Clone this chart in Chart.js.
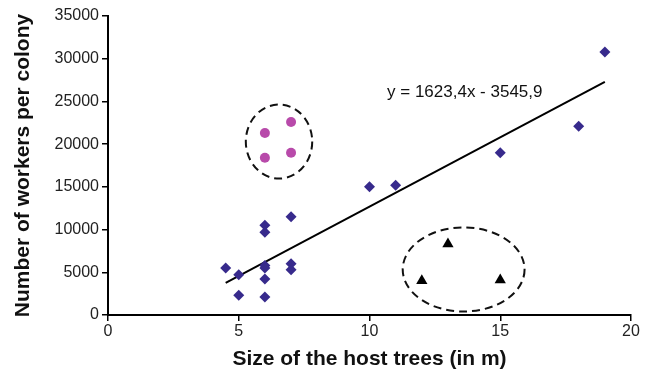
<!DOCTYPE html>
<html>
<head>
<meta charset="utf-8">
<script src="https://cdn.jsdelivr.net/npm/chart.js@4/dist/chart.umd.min.js"></script>
<style>
  html, body { margin: 0; padding: 0; background: #fff; }
  #wrap { width: 658px; height: 376px; }
</style>
</head>
<body>
<div id="wrap"><canvas id="chart"></canvas></div>
<script>
// ── Data ──────────────────────────────────────────────
const diamondX = [4.5, 5, 5, 6, 6, 6, 6, 6, 6, 7, 7, 7, 10, 11, 15, 18, 19];
const diamondY = [5500, 4700, 2300, 10500, 9700, 5800, 5500, 4200, 2100, 11500, 6000, 5300, 15000, 15200, 19000, 22100, 30800];

const circleX = [6, 7, 6, 7];
const circleY = [21300, 22600, 18400, 19000];

const triangleX = [12, 13, 15];
const triangleY = [4000, 8300, 4100];

// trend line y = 1623,4x - 3545,9, drawn over the diamond range
const slope = 1623.4;
const intercept = -3545.9;
const trendX = [4.5, 19];
const equationLabel = 'y = 1623,4x - 3545,9';

const xTicks = [0, 5, 10, 15, 20];
const yTicks = [0, 5000, 10000, 15000, 20000, 25000, 30000, 35000];

// dashed ellipses: [centerX, centerY, radiusX, radiusY] in data units
const ellipses = [
  [6.54, 20300, 1.27, 4330],
  [13.6, 5330, 2.33, 4920],
];

const pts = (xs, ys) => xs.map((x, i) => ({ x, y: ys[i] }));

// ── Annotations (ellipses + equation) ─────────────────
const annotations = {
  id: 'annotations',
  afterDatasetsDraw(chart) {
    const { ctx, scales: { x, y } } = chart;
    ctx.save();
    ctx.strokeStyle = '#111';
    ctx.lineWidth = 2;
    ctx.setLineDash([8, 5]);
    ellipses.forEach(([cx, cy, rx, ry]) => {
      const px = x.getPixelForValue(cx);
      const py = y.getPixelForValue(cy);
      const prx = Math.abs(x.getPixelForValue(cx + rx) - px);
      const pry = Math.abs(y.getPixelForValue(cy + ry) - py);
      ctx.beginPath();
      ctx.ellipse(px, py, prx, pry, 0, 0, Math.PI * 2);
      ctx.stroke();
    });
    ctx.setLineDash([]);
    ctx.fillStyle = '#111';
    ctx.font = '17px "Liberation Sans", Arial, sans-serif';
    ctx.textBaseline = 'alphabetic';
    ctx.fillText(equationLabel, x.getPixelForValue(10.67), y.getPixelForValue(25500));
    ctx.restore();
  }
};

const axisGrid = { display: true, drawOnChartArea: false, drawTicks: true, tickLength: 6, color: '#000', lineWidth: 1.5 };
const tickFont = { family: '"Liberation Sans", Arial, sans-serif', size: 16 };
const titleFont = { family: '"Liberation Sans", Arial, sans-serif', size: 21, weight: 'bold' };

new Chart(document.getElementById('chart'), {
  type: 'scatter',
  data: {
    datasets: [
      {
        data: pts(diamondX, diamondY),
        pointStyle: 'rectRot',
        pointRadius: 5.5,
        backgroundColor: '#372a8c',
        borderColor: '#372a8c',
        borderWidth: 0,
      },
      {
        data: pts(circleX, circleY),
        pointStyle: 'circle',
        pointRadius: 5,
        backgroundColor: '#b84aaa',
        borderColor: '#b84aaa',
        borderWidth: 0,
      },
      {
        data: pts(triangleX, triangleY),
        pointStyle: 'triangle',
        pointRadius: 6.5,
        backgroundColor: '#000',
        borderColor: '#000',
        borderWidth: 0,
      },
      {
        type: 'line',
        data: trendX.map(v => ({ x: v, y: slope * v + intercept })),
        borderColor: '#000',
        borderWidth: 2,
        pointRadius: 0,
        fill: false,
      },
    ],
  },
  options: {
    responsive: true,
    maintainAspectRatio: false,
    animation: false,
    layout: { padding: { top: 16, right: 27, left: 0, bottom: 0 } },
    plugins: { legend: { display: false }, tooltip: { enabled: false } },
    scales: {
      x: {
        type: 'linear',
        min: 0, max: 20,
        afterBuildTicks: s => { s.ticks = xTicks.map(value => ({ value })); },
        afterFit: s => { s.height = 61; },
        ticks: { color: '#222', font: tickFont, padding: 1, maxRotation: 0 },
        grid: axisGrid,
        border: { color: '#000', width: 2 },
        title: { display: true, text: 'Size of the host trees (in m)', color: '#111', font: titleFont, padding: { top: 3 } },
      },
      y: {
        type: 'linear',
        min: 0, max: 35000,
        afterBuildTicks: s => { s.ticks = yTicks.map(value => ({ value })); },
        afterFit: s => { s.width = 108; },
        ticks: { color: '#222', font: tickFont, padding: 3, callback: v => String(v) },
        grid: axisGrid,
        border: { color: '#000', width: 2 },
        title: { display: true, text: 'Number of workers per colony', color: '#111', font: titleFont, padding: { top: 11, bottom: 4 } },
      },
    },
  },
  plugins: [annotations],
});
</script>
</body>
</html>
